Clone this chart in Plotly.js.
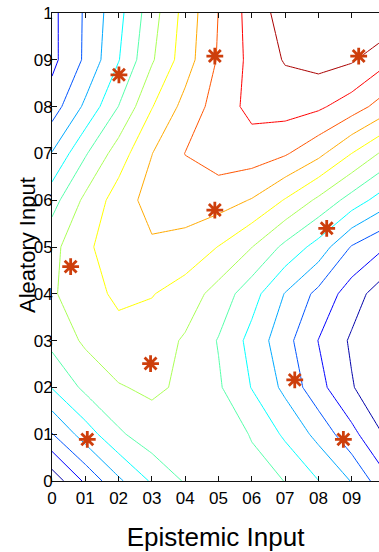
<!DOCTYPE html>
<html>
<head>
<meta charset="utf-8">
<script src="https://cdn.plot.ly/plotly-3.0.1.min.js"></script>
<style>
html,body{margin:0;padding:0;background:#ffffff;overflow:hidden;}
#chart{width:379px;height:552px;}
</style>
</head>
<body>
<div id="chart"></div>
<script>
// grid coordinates
const gridX = [0, 0.1, 0.2, 0.3, 0.4, 0.5, 0.6, 0.7, 0.8, 0.9, 1.0];
const gridY = [0, 0.1, 0.2, 0.3, 0.4, 0.5, 0.6, 0.7, 0.8, 0.9, 1.0];

// response values, one array per row of the grid (Aleatory = y)
const zY00 = [0.36, 2.18, 3.81, 5.13, 6.10, 6.50, 6.40, 5.98, 5.02, 3.95, 2.26];
const zY01 = [2.95, 4.49, 5.83, 6.60, 6.80, 6.70, 5.92, 4.82, 3.70, 2.30, 0.90];
const zY02 = [5.05, 6.24, 6.94, 7.15, 6.85, 6.13, 4.96, 3.76, 2.33, 1.08, 0.10];
const zY03 = [6.30, 7.17, 7.55, 7.50, 6.88, 5.94, 4.67, 3.35, 1.98, 0.85, -0.21];
const zY04 = [6.90, 7.50, 8.25, 8.05, 7.55, 6.60, 5.40, 3.95, 2.72, 1.50, 0.36];
const zY05 = [6.70, 7.83, 8.50, 8.85, 8.65, 7.97, 7.02, 5.75, 4.60, 2.92, 2.04];
const zY06 = [5.61, 7.23, 8.46, 9.40, 9.50, 9.43, 8.94, 7.93, 6.80, 5.59, 4.44];
const zY07 = [4.05, 5.89, 7.50, 8.98, 10.02, 10.50, 10.50, 10.11, 9.27, 8.00, 6.75];
const zY08 = [2.50, 4.20, 6.02, 7.95, 9.33, 10.45, 11.30, 11.40, 11.17, 10.50, 9.52];
const zY09 = [1.73, 3.16, 4.95, 6.88, 8.53, 10.11, 11.30, 12.08, 12.36, 12.12, 11.26];
const zY10 = [1.74, 3.13, 4.70, 6.57, 8.37, 10.02, 11.42, 12.44, 12.70, 12.80, 12.90];

// contour levels
const levelStart = 1;
const levelEnd = 12;
const levelStep = 1;

// jet colours for the 12 levels
const levelColors = [
  'rgb(0,0,170)', 'rgb(0,0,255)', 'rgb(0,85,255)', 'rgb(0,170,255)',
  'rgb(0,255,255)', 'rgb(85,255,170)', 'rgb(170,255,85)', 'rgb(255,255,0)',
  'rgb(255,170,0)', 'rgb(255,85,0)', 'rgb(255,0,0)', 'rgb(170,0,0)'
];

// sample points (asterisks)
const sampleX = [0.201, 0.489, 0.921, 0.489, 0.825, 0.056, 0.296, 0.729, 0.106, 0.875];
const sampleY = [0.868, 0.908, 0.908, 0.579, 0.540, 0.458, 0.251, 0.216, 0.089, 0.089];

// ticks and titles
const xTickVals = [0, 0.1, 0.2, 0.3, 0.4, 0.5, 0.6, 0.7, 0.8, 0.9];
const xTickText = ['0', '01', '02', '03', '04', '05', '06', '07', '08', '09'];
const yTickVals = [0, 0.1, 0.2, 0.3, 0.4, 0.5, 0.6, 0.7, 0.8, 0.9, 1];
const yTickText = ['0', '01', '02', '03', '04', '05', '06', '07', '08', '09', '1'];
const xTitle = 'Epistemic Input';
const yTitle = 'Aleatory Input';

const zGrid = [zY00, zY01, zY02, zY03, zY04, zY05, zY06, zY07, zY08, zY09, zY10];
const colorscale = levelColors.map((c, i) => [i / (levelColors.length - 1), c]);

const contourTrace = {
  type: 'contour',
  x: gridX,
  y: gridY,
  z: zGrid,
  autocontour: false,
  contours: {start: levelStart, end: levelEnd, size: levelStep, coloring: 'lines', showlabels: false},
  colorscale: colorscale,
  showscale: false,
  line: {width: 1, smoothing: 0},
  hoverinfo: 'skip'
};

const sampleTrace = {
  type: 'scatter',
  mode: 'markers',
  x: sampleX,
  y: sampleY,
  marker: {symbol: 'asterisk-open', size: 14, color: 'rgb(205,62,12)', line: {width: 2.8, color: 'rgb(205,62,12)'}},
  hoverinfo: 'skip'
};

const fam = 'Liberation Sans, Arial, sans-serif';
const axisFont = {family: fam, size: 17, color: '#000'};

const layout = {
  width: 379,
  height: 552,
  margin: {l: 52, r: 0, t: 13, b: 71, pad: 0},
  paper_bgcolor: '#ffffff',
  plot_bgcolor: '#ffffff',
  showlegend: false,
  font: axisFont,
  xaxis: {
    range: [0, 0.982],
    tickvals: xTickVals,
    ticktext: xTickText,
    ticks: 'inside',
    ticklen: 5,
    tickwidth: 1,
    tickcolor: '#111',
    showline: true,
    linecolor: '#111',
    linewidth: 1,
    mirror: 'ticks',
    showgrid: false,
    zeroline: false,
    tickfont: axisFont,
    ticklabelstandoff: 2,
    title: {text: xTitle, font: {family: fam, size: 26, color: '#000'}, standoff: 20}
  },
  yaxis: {
    range: [0, 1],
    tickvals: yTickVals,
    ticktext: yTickText,
    ticks: 'inside',
    ticklen: 5,
    tickwidth: 1,
    tickcolor: '#111',
    showline: true,
    linecolor: '#111',
    linewidth: 1,
    mirror: false,
    showgrid: false,
    zeroline: false,
    tickfont: axisFont,
    ticklabelstandoff: -5
  },
  annotations: [{
    text: yTitle,
    xref: 'paper', yref: 'paper',
    x: (27 - 52) / 327, y: (481 - 245) / 468,
    xanchor: 'center', yanchor: 'middle',
    textangle: -90,
    showarrow: false,
    font: {family: fam, size: 22, color: '#000'}
  }]
};

Plotly.newPlot('chart', [contourTrace, sampleTrace], layout, {displayModeBar: false, staticPlot: true});
</script>
</body>
</html>
